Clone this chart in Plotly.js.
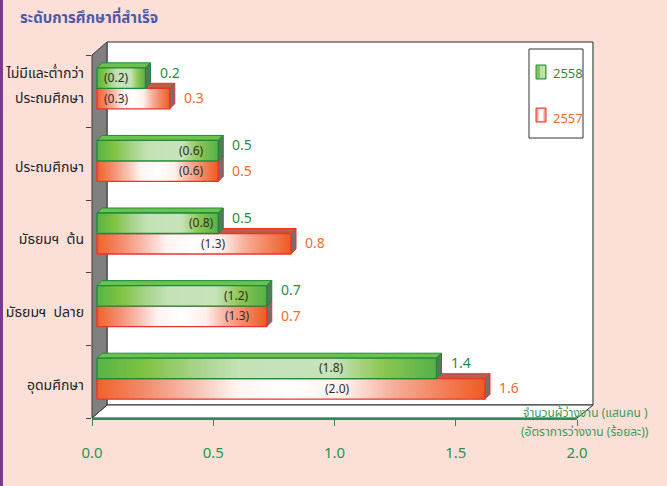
<!DOCTYPE html>
<html><head><meta charset="utf-8">
<script src="https://cdn.plot.ly/plotly-3.0.1.min.js"></script>
<style>html,body{margin:0;padding:0;background:#fce0d8;}</style>
</head><body><div id="chart" style="width:667px;height:486px;"></div>
<script>
// ---- data ----
const categories = ['ไม่มีและต่ำกว่า<br>ประถมศึกษา', 'ประถมศึกษา', 'มัธยมฯ  ต้น', 'มัธยมฯ  ปลาย', 'อุดมศึกษา'];
const seriesNames = ['2558', '2557'];
const unemployed2558 = [0.2, 0.5, 0.5, 0.7, 1.4];   // แสนคน
const unemployed2557 = [0.3, 0.5, 0.8, 0.7, 1.6];
const rate2558 = [0.2, 0.6, 0.8, 1.2, 1.8];          // ร้อยละ
const rate2557 = [0.3, 0.6, 1.3, 1.3, 2.0];
const xTickVals = [0, 0.5, 1, 1.5, 2];
const xTickText = ['0.0', '0.5', '1.0', '1.5', '2.0'];
const xTitleLines = ['จำนวนผู้ว่างงาน (แสนคน )', '(อัตราการว่างงาน (ร้อยละ))'];

// ---- style / layout constants ----
const FONT = 'Tahoma, "Noto Sans Thai", "Noto Sans", "DejaVu Sans", sans-serif';
const W = 667, H = 486, L = 92, R = 90, T = 55, B = 68;
const PW = W - L - R, PH = H - T - B;
const xMax = 2.0, nCat = categories.length;
const pxX = PW / xMax, pxY = PH / nCat;
const px2pX = px => (px - L) / PW;
const px2pY = py => (H - B - py) / PH;
const shiftX = 5 / pxX, shiftY = 3 / pxY;
const depthX = 5 / pxX, depthY = 5 / pxY;
const barH = 20.5 / pxY;
// where the (rate) labels sit along each bar (fraction of bar length)
const rateFrac2558 = [0.40, 0.78, 0.86, 0.82, 0.69];
const rateFrac2557 = [0.27, 0.78, 0.60, 0.83, 0.62];

const GREEN_TXT = '#1f8d48', ORANGE_TXT = '#f26b2b';
const styles = {
  '2558': {
    grad: [[0,'#58b447'],[0.14,'#80c241'],[0.3,'#a9d48f'],[0.42,'#c4e2b6'],[0.7,'#c6e3b9'],[0.84,'#8dc652'],[1,'#55b049']],
    edge: '#1b8a3c', top: '#6cc24c', side: '#55785a'
  },
  '2557': {
    grad: [[0,'#f0622a'],[0.12,'#f28a6a'],[0.25,'#f7c1b2'],[0.36,'#fff4f2'],[0.5,'#ffffff'],[0.64,'#fff0ec'],[0.76,'#f6b09c'],[0.88,'#f2845e'],[1,'#f05a22']],
    edge: '#ee3228', top: '#b6604a', side: '#707070'
  }
};

const traces = [];
const annotations = [];
function addBar(series, i, v, rate, frac, upper) {
  const st = styles[series];
  const yc = i - shiftY;
  const yt = upper ? yc - barH : yc;
  const yb = upper ? yc : yc + barH;
  const x0 = shiftX, x1 = shiftX + v;
  const common = {type: 'scatter', mode: 'lines', fill: 'toself', hoverinfo: 'skip', showlegend: false, xaxis: 'x', yaxis: 'y'};
  traces.push(Object.assign({}, common, {
    x: [x0, x1, x1 + depthX, x0 + depthX, x0], y: [yt, yt, yt - depthY, yt - depthY, yt],
    fillcolor: st.top, line: {color: st.edge, width: 1}
  }));
  traces.push(Object.assign({}, common, {
    x: [x1, x1 + depthX, x1 + depthX, x1, x1], y: [yt, yt - depthY, yb - depthY, yb, yt],
    fillcolor: st.side, line: {color: st.edge, width: 1}
  }));
  traces.push(Object.assign({}, common, {
    name: series,
    x: [x0, x1, x1, x0, x0], y: [yt, yt, yb, yb, yt],
    fillgradient: {type: 'horizontal', colorscale: st.grad},
    line: {color: st.edge, width: 1.3}
  }));
  annotations.push({x: x0 + v * frac, y: (yt + yb) / 2, xref: 'x', yref: 'y', showarrow: false,
    text: '(' + rate.toFixed(1) + ')', font: {family: FONT, size: 12, color: '#2e2e2e'}, xanchor: 'center', yanchor: 'middle'});
  annotations.push({x: x1, y: (yt + yb) / 2, xref: 'x', yref: 'y', showarrow: false, xanchor: 'left', yanchor: 'middle',
    xshift: 12, yshift: upper ? 5 : 0,
    text: v.toFixed(1), font: {family: FONT, size: 14, color: series === '2558' ? GREEN_TXT : ORANGE_TXT}});
}
for (let i = 0; i < nCat; i++) addBar('2557', i, unemployed2557[i], rate2557[i], rateFrac2557[i], false);
for (let i = 0; i < nCat; i++) addBar('2558', i, unemployed2558[i], rate2558[i], rateFrac2558[i], true);

// category label ticks (two-line labels split so the lines sit beside each bar)
const labelOff = 3 / pxY;
const catTickVals = [], catTickText = [];
categories.forEach((c, i) => {
  const lines = c.split('<br>');
  if (lines.length === 2) {
    catTickVals.push(i - 18 / pxY, i + 7 / pxY);
    catTickText.push(lines[0], lines[1]);
  } else {
    catTickVals.push(i + labelOff);
    catTickText.push(c);
  }
});
// invisible trace to carry category labels axis
traces.push({type: 'scatter', mode: 'markers', x: categories.map(() => 0), y: categories.map((c, i) => i),
  xaxis: 'x', yaxis: 'y2', marker: {opacity: 0}, hoverinfo: 'skip', showlegend: false});

// 3D frame shapes (paper coords from pixels)
const P = (px, py) => px2pX(px) + ',' + px2pY(py);
const shapes = [
  {type: 'line', xref: 'paper', yref: 'paper', x0: px2pX(1.5), x1: px2pX(1.5), y0: px2pY(486), y1: px2pY(0), line: {color: '#7b3a90', width: 3}, layer: 'below'},
  {type: 'rect', xref: 'paper', yref: 'paper', x0: px2pX(107), x1: px2pX(593), y0: px2pY(405), y1: px2pY(42), fillcolor: '#ffffff', line: {color: '#2a2a2a', width: 1}, layer: 'below'},
  {type: 'line', xref: 'paper', yref: 'paper', x0: px2pX(593), x1: px2pX(593), y0: px2pY(405), y1: px2pY(43), line: {color: '#8a8a8a', width: 2}, layer: 'below'},
  {type: 'path', xref: 'paper', yref: 'paper', path: 'M' + P(92, 418) + 'L' + P(577, 418) + 'L' + P(593, 405) + 'L' + P(107, 405) + 'Z', fillcolor: '#ffffff', line: {color: '#2a2a2a', width: 1}, layer: 'below'},
  {type: 'path', xref: 'paper', yref: 'paper', path: 'M' + P(92, 55) + 'L' + P(107, 42) + 'L' + P(107, 405) + 'L' + P(92, 418) + 'Z', fillcolor: '#808080', line: {color: '#3a3a3a', width: 1}, layer: 'below'},
  // legend box
  {type: 'rect', xref: 'paper', yref: 'paper', x0: px2pX(529), x1: px2pX(583), y0: px2pY(138), y1: px2pY(49), fillcolor: '#ffffff', line: {color: '#333', width: 1}},
  {type: 'rect', xref: 'paper', yref: 'paper', x0: px2pX(536), x1: px2pX(546), y0: px2pY(79), y1: px2pY(65), fillcolor: '#7cc35c', line: {color: '#2a9440', width: 1}},
  {type: 'rect', xref: 'paper', yref: 'paper', x0: px2pX(540), x1: px2pX(545), y0: px2pY(78), y1: px2pY(66), fillcolor: '#bfe0ad', line: {width: 0}},
  {type: 'rect', xref: 'paper', yref: 'paper', x0: px2pX(536), x1: px2pX(546), y0: px2pY(122), y1: px2pY(108), fillcolor: '#f5a493', line: {color: '#ee3228', width: 1}},
  {type: 'rect', xref: 'paper', yref: 'paper', x0: px2pX(538.5), x1: px2pX(543.5), y0: px2pY(121), y1: px2pY(109), fillcolor: '#ffffff', line: {width: 0}}
];
annotations.push({xref: 'paper', yref: 'paper', x: px2pX(551), y: px2pY(74), xanchor: 'left', yanchor: 'middle', showarrow: false,
  text: seriesNames[0], font: {family: FONT, size: 13, color: GREEN_TXT}});
annotations.push({xref: 'paper', yref: 'paper', x: px2pX(551), y: px2pY(119), xanchor: 'left', yanchor: 'middle', showarrow: false,
  text: seriesNames[1], font: {family: FONT, size: 13, color: ORANGE_TXT}});
annotations.push({xref: 'paper', yref: 'paper', x: px2pX(585), y: px2pY(413), xanchor: 'center', yanchor: 'middle', showarrow: false,
  text: xTitleLines[0], font: {family: FONT, size: 12, color: '#3a9a5a'}});
annotations.push({xref: 'paper', yref: 'paper', x: px2pX(585), y: px2pY(432), xanchor: 'center', yanchor: 'middle', showarrow: false,
  text: xTitleLines[1], font: {family: FONT, size: 12, color: '#3a9a5a'}});

const layout = {
  width: W, height: H,
  margin: {l: L, r: R, t: T, b: B, pad: 0},
  paper_bgcolor: '#fce0d8', plot_bgcolor: 'rgba(0,0,0,0)',
  font: {family: FONT, color: '#333'},
  title: {text: 'ระดับการศึกษาที่สำเร็จ', font: {family: FONT, size: 15, color: '#4b5aa8', weight: 'bold'},
    x: 20 / W, xanchor: 'left', xref: 'container', y: 1 - 18 / H, yanchor: 'middle', yref: 'container'},
  showlegend: false,
  xaxis: {range: [0, xMax], domain: [0, 1], tickvals: xTickVals, ticktext: xTickText, showline: true, linecolor: '#2e8b57', linewidth: 1.5,
    ticks: 'outside', ticklen: 6, tickcolor: '#2e8b57', tickfont: {family: FONT, size: 15, color: '#2a9150'},
    ticklabelstandoff: 14, showgrid: false, zeroline: false, fixedrange: true},
  yaxis: {range: [nCat - 0.5, -0.5], tickvals: [-0.5, 0.5, 1.5, 2.5, 3.5, 4.5], showticklabels: false, ticks: 'outside', ticklen: 5,
    tickcolor: '#444', showline: false, showgrid: false, zeroline: false, fixedrange: true},
  yaxis2: {overlaying: 'y', side: 'left', range: [nCat - 0.5, -0.5], tickvals: catTickVals, ticktext: catTickText,
    ticks: '', ticklabelstandoff: 7, tickfont: {family: FONT, size: 14, color: '#222'}, showline: false, showgrid: false, zeroline: false, fixedrange: true},
  shapes: shapes,
  annotations: annotations
};
Plotly.newPlot('chart', traces, layout, {displayModeBar: false, staticPlot: true});
</script></body></html>
